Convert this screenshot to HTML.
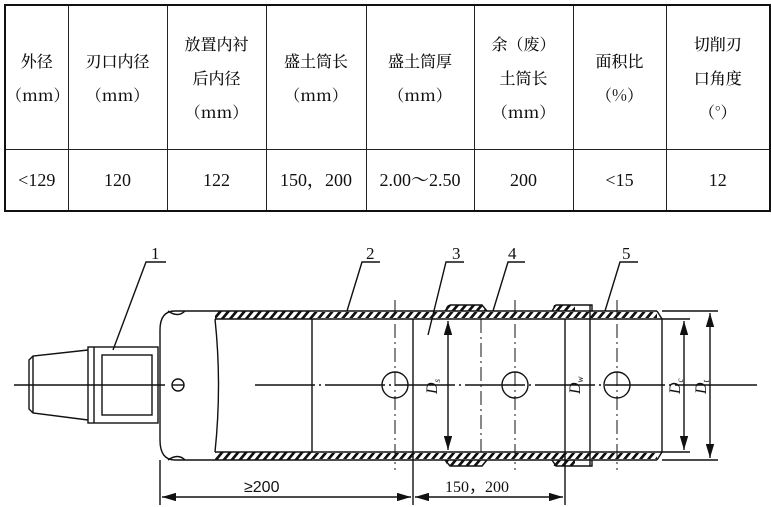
<!DOCTYPE html>
<html><head><meta charset="utf-8"><style>
body{margin:0;background:#fff;width:771px;height:507px;overflow:hidden;position:relative;font-family:"Noto Serif CJK SC","Liberation Serif",serif;}
table{position:absolute;left:4px;top:4px;border-collapse:collapse;border:2.5px solid #111;table-layout:fixed;width:765px;}
td{border:1.5px solid #222;text-align:center;font-size:16px;line-height:34px;color:#111;padding:0;font-weight:500;white-space:nowrap;overflow:hidden;}
tr.h td{height:143px;}
tr.d td{height:60px;font-size:18px;font-family:"Liberation Serif","Noto Serif CJK SC",serif;}
</style></head><body>
<table>
<colgroup><col style="width:63px"><col style="width:99px"><col style="width:99px"><col style="width:100px"><col style="width:108px"><col style="width:99px"><col style="width:93px"><col style="width:104px"></colgroup>
<tr class="h"><td>外径<br>（mm）</td><td>刃口内径<br>（mm）</td><td>放置内衬<br>后内径<br>（mm）</td><td>盛土筒长<br>（mm）</td><td>盛土筒厚<br>（mm）</td><td>余（废）<br>土筒长<br>（mm）</td><td>面积比<br>（%）</td><td>切削刃<br>口角度<br>（°）</td></tr>
<tr class="d"><td>&lt;129</td><td>120</td><td>122</td><td>150，200</td><td>2.00～2.50</td><td>200</td><td>&lt;15</td><td>12</td></tr>
</table>
<svg width="771" height="507" style="position:absolute;left:0;top:0" xmlns="http://www.w3.org/2000/svg">
<defs><pattern id="h" width="8" height="8" patternUnits="userSpaceOnUse" patternTransform="skewX(-40)"><rect width="3.5" height="8" fill="#111"/></pattern>
<marker id="a" markerWidth="10" markerHeight="6" refX="10" refY="3" orient="auto-start-reverse"><path d="M0,0L10,3L0,6z" fill="#111"/></marker></defs>
<g stroke="#111" stroke-width="1.4" fill="none">
<line x1="14" y1="385" x2="165" y2="385"/><line x1="255" y1="385" x2="727" y2="385" stroke-dasharray="60,4,2,4"/><line x1="727" y1="385" x2="757" y2="385"/>
<path d="M88,350 L33,356 L29,360 L29,409 L33,413 L88,420"/><line x1="33" y1="356" x2="33" y2="413"/>
<rect x="88" y="347" width="70" height="76"/><line x1="94" y1="347" x2="94" y2="423"/><rect x="102" y="355" width="50" height="60"/>
<circle cx="178" cy="385" r="6"/><line x1="172" y1="385" x2="184" y2="385"/>
<path d="M215,311 L175,311 Q160,311 160,330 L160,440 Q160,460 175,460 L215,460"/>
<path d="M215,319 Q222,385 215,452"/>
<path d="M168,311 Q178,318 185,311"/><path d="M168,460 Q178,453 185,460"/>
<line x1="215" y1="311" x2="657" y2="311"/><line x1="215" y1="460" x2="657" y2="460"/>
<line x1="215" y1="319" x2="662" y2="319"/><line x1="215" y1="452" x2="662" y2="452"/>
<path d="M657,311 L662,319 L662,452 L657,460"/>
<line x1="312" y1="319" x2="312" y2="452"/><line x1="413" y1="319" x2="413" y2="505"/><line x1="565" y1="319" x2="565" y2="505"/>
<line x1="590" y1="305" x2="590" y2="466"/>
<line x1="160" y1="460" x2="160" y2="505"/>
<g stroke-dasharray="14,4,2,4" stroke-width="1"><line x1="395" y1="300" x2="395" y2="470"/><line x1="481" y1="319" x2="481" y2="452"/><line x1="515" y1="300" x2="515" y2="470"/><line x1="617" y1="300" x2="617" y2="470"/></g>
<circle cx="395" cy="385" r="13"/><circle cx="515" cy="385" r="13"/><circle cx="617" cy="385" r="13"/>
<path d="M445,311 L450,305 L482,305 L487,311"/><path d="M445,460 L450,466 L482,466 L487,460"/>
<path d="M552,311 L556,305 L592,305 L592,311"/><path d="M552,460 L556,466 L592,466 L592,460"/>
<line x1="448" y1="321" x2="448" y2="450" marker-start="url(#a)" marker-end="url(#a)"/>
<line x1="684" y1="321" x2="684" y2="450" marker-start="url(#a)" marker-end="url(#a)"/>
<line x1="710" y1="313" x2="710" y2="458" marker-start="url(#a)" marker-end="url(#a)"/>
<line x1="662" y1="311" x2="718" y2="311"/><line x1="662" y1="319" x2="690" y2="319"/><line x1="662" y1="452" x2="690" y2="452"/><line x1="662" y1="460" x2="718" y2="460"/>
<line x1="162" y1="497" x2="411" y2="497" marker-start="url(#a)" marker-end="url(#a)"/>
<line x1="415" y1="497" x2="563" y2="497" marker-start="url(#a)" marker-end="url(#a)"/>
<polyline points="113,350 146,262 166,262"/><polyline points="347,311 362,262 380,262"/>
<polyline points="428,335 446,262 464,262"/><polyline points="493,311 508,262 525,262"/><polyline points="605,311 620,262 638,262"/>
</g>
<g fill="url(#h)">
<rect x="215" y="311" width="97" height="8"/><rect x="215" y="452" width="97" height="8"/>
<rect x="312" y="312" width="345" height="6"/><rect x="312" y="453" width="345" height="6"/>
<path d="M447,305 L482,305 L487,311 L445,311z"/><path d="M447,466 L482,466 L487,460 L445,460z"/>
<path d="M554,305 L575,305 L575,311 L552,311z"/><path d="M554,466 L575,466 L575,460 L552,460z"/>
</g>
<g font-family="Liberation Serif,serif" font-size="17" fill="#111">
<text x="151" y="259">1</text><text x="366" y="259">2</text><text x="452" y="259">3</text><text x="508" y="259">4</text><text x="622" y="259">5</text>
<text x="244" y="492" font-family="Liberation Sans,sans-serif" font-size="16">≥200</text>
<text x="445" y="492" font-size="16">150，200</text>
<g font-style="italic" font-size="16">
<text transform="translate(437,394) rotate(-90)">D<tspan font-size="9" dy="3">s</tspan></text>
<text transform="translate(580,394) rotate(-90)">D<tspan font-size="9" dy="3">w</tspan></text>
<text transform="translate(680,394) rotate(-90)">D<tspan font-size="9" dy="3">c</tspan></text>
<text transform="translate(706,394) rotate(-90)">D<tspan font-size="9" dy="3">t</tspan></text>
</g></g>
</svg>
</body></html>
